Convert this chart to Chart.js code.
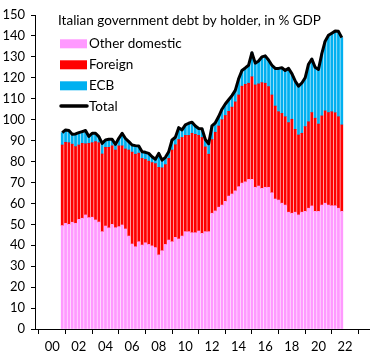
<!DOCTYPE html>
<html><head><meta charset="utf-8">
<script src="https://cdn.jsdelivr.net/npm/chart.js@4.4.1/dist/chart.umd.min.js"></script>
<style>html,body{margin:0;padding:0;background:#fff}#wrap{width:384px;height:359px}</style>
</head><body><div id="wrap"><canvas id="c" width="384" height="359"></canvas></div>
<script>
const chartTitle = 'Italian government debt by holder, in % GDP';
const quarters = ['2000Q4',
 '2001Q1','2001Q2','2001Q3','2001Q4','2002Q1','2002Q2','2002Q3','2002Q4',
 '2003Q1','2003Q2','2003Q3','2003Q4','2004Q1','2004Q2','2004Q3','2004Q4',
 '2005Q1','2005Q2','2005Q3','2005Q4','2006Q1','2006Q2','2006Q3','2006Q4',
 '2007Q1','2007Q2','2007Q3','2007Q4','2008Q1','2008Q2','2008Q3','2008Q4',
 '2009Q1','2009Q2','2009Q3','2009Q4','2010Q1','2010Q2','2010Q3','2010Q4',
 '2011Q1','2011Q2','2011Q3','2011Q4','2012Q1','2012Q2','2012Q3','2012Q4',
 '2013Q1','2013Q2','2013Q3','2013Q4','2014Q1','2014Q2','2014Q3','2014Q4',
 '2015Q1','2015Q2','2015Q3','2015Q4','2016Q1','2016Q2','2016Q3','2016Q4',
 '2017Q1','2017Q2','2017Q3','2017Q4','2018Q1','2018Q2','2018Q3','2018Q4',
 '2019Q1','2019Q2','2019Q3','2019Q4','2020Q1','2020Q2','2020Q3','2020Q4',
 '2021Q1','2021Q2','2021Q3','2021Q4'];
const otherDomestic = [49.4,
 50.5,50.0,51.0,50.5,52.4,52.9,54.5,53.2,53.4,52.1,51.1,46.5,49.2,48.3,50.0,48.4,
 48.9,49.7,47.8,44.4,40.6,39.3,41.7,40.1,41.2,40.4,39.7,38.9,35.4,37.4,40.4,42.5,
 41.7,43.8,43.0,44.4,46.5,46.5,46.0,46.0,46.8,45.7,46.5,46.5,55.3,56.4,58.2,59.2,
 61.0,63.5,64.5,66.0,68.0,69.7,70.3,71.5,71.5,67.7,68.3,67.2,67.7,67.7,65.1,62.1,
 61.6,60.1,59.2,55.8,55.3,55.8,54.5,55.8,56.2,57.7,58.8,56.2,56.2,59.2,60.1,59.2,
 58.9,58.9,57.7,56.2];
const foreign = [38.5,
 38.7,39.0,37.3,36.6,35.5,35.8,34.0,35.5,35.6,37.4,37.9,37.1,37.6,38.5,37.5,37.1,
 38.6,37.8,38.2,41.1,43.9,44.2,42.3,41.4,39.8,39.8,39.8,40.1,41.8,39.6,38.1,39.0,
 43.8,44.2,47.5,47.1,46.0,46.0,47.5,47.0,45.7,45.8,40.5,37.0,35.2,37.6,38.8,40.8,
 41.0,40.5,41.5,42.5,43.8,46.3,46.6,45.9,49.0,48.9,48.8,50.5,49.7,48.1,46.7,44.4,
 42.2,42.9,42.2,42.8,44.9,39.6,38.2,37.7,40.5,41.3,44.6,44.5,41.7,42.6,44.1,44.2,
 44.9,44.4,43.7,41.3];
const ecb = [5.9,
 5.9,5.8,4.7,6.1,5.9,5.6,6.3,3.3,4.5,4.0,2.9,5.1,3.5,3.8,3.1,2.7,
 3.6,6.0,5.0,4.0,3.4,4.1,3.4,3.2,3.4,3.7,2.8,2.1,6.7,3.7,3.5,3.2,
 4.8,3.6,5.7,3.6,5.0,5.8,5.3,4.0,3.3,4.2,3.5,5.0,6.5,4.5,4.5,5.0,
 5.5,5.5,5.5,5.5,7.7,7.5,7.8,8.6,11.5,10.4,10.9,12.3,13.1,12.7,14.2,18.0,
 20.7,21.8,22.1,25.9,21.8,23.1,23.3,24.0,23.3,27.5,25.6,24.3,26.1,29.7,33.3,36.9,
 37.5,39.0,40.8,41.7];
const total = [93.8,
 95.1,94.8,93.0,93.2,93.8,94.3,94.8,92.0,93.5,93.5,91.9,88.7,90.3,90.6,90.6,88.2,
 91.1,93.5,91.0,89.5,87.9,87.6,87.4,84.7,84.4,83.9,82.3,81.1,83.9,80.7,82.0,84.7,
 90.3,91.6,96.2,95.1,97.5,98.3,98.8,97.0,95.8,95.7,90.5,88.5,97.0,98.5,101.5,105.0,
 107.5,109.5,111.5,114.0,119.5,123.5,124.7,126.0,132.0,127.0,128.0,130.0,130.5,128.5,126.0,124.5,
 124.5,124.8,123.5,124.5,122.0,118.5,116.0,117.5,120.0,126.5,129.0,125.0,124.0,131.5,137.5,140.3,
 141.3,142.3,142.2,139.2];
const xTickYears = [2000,2002,2004,2006,2008,2010,2012,2014,2016,2018,2020,2022];
const xTickLabels = ['00','02','04','06','08','10','12','14','16','18','20','22'];

const FONT = 'Lato, "Open Sans", sans-serif';
const xOf = q => { const p = q.split('Q'); return Number(p[0]) + (Number(p[1]) - 1) / 4; };
const pts = arr => arr.map((v, i) => ({ x: xOf(quarters[i]), y: v }));

const inlineLegend = {
  id: 'inlineLegend',
  afterDraw(chart) {
    const ctx = chart.ctx;
    ctx.save();
    ctx.font = '13.5px ' + FONT;
    ctx.fillStyle = '#000';
    ctx.textBaseline = 'alphabetic';
    ctx.textAlign = 'left';
    ctx.fillText(chartTitle, 58, 25);
    const rows = [43.8, 64.8, 85.8, 106];
    chart.data.datasets.forEach((ds, i) => {
      const cy = rows[i];
      if (ds.type === 'line') {
        ctx.strokeStyle = ds.borderColor;
        ctx.lineWidth = 3.5;
        ctx.lineCap = 'round';
        ctx.beginPath(); ctx.moveTo(61, cy); ctx.lineTo(87, cy); ctx.stroke();
      } else {
        ctx.fillStyle = ds.backgroundColor;
        ctx.fillRect(60, cy - 4.5, 27, 9);
      }
      ctx.fillStyle = '#000';
      ctx.fillText(ds.label, 89, cy + 4.5);
    });
    ctx.restore();
  }
};

new Chart(document.getElementById('c'), {
  type: 'bar',
  data: { datasets: [
    { label: 'Other domestic', data: pts(otherDomestic), backgroundColor: '#FF99FF', order: 1 },
    { label: 'Foreign', data: pts(foreign), backgroundColor: '#FF0000', order: 1 },
    { label: 'ECB', data: pts(ecb), backgroundColor: '#00B0F0', order: 1 },
    { type: 'line', label: 'Total', data: pts(total), borderColor: '#000000', borderWidth: 3,
      pointRadius: 0, order: 0, stack: 'total', tension: 0, borderJoinStyle: 'round', fill: false }
  ]},
  options: {
    responsive: false,
    animation: false,
    devicePixelRatio: 1,
    layout: { padding: { top: 15, right: 15, left: 0, bottom: 0 } },
    datasets: { bar: { barThickness: 2.1, borderWidth: 0 } },
    plugins: { legend: { display: false }, tooltip: { enabled: false }, title: { display: false } },
    scales: {
      x: {
        type: 'linear', stacked: true, min: 1999.75, max: 2022.75,
        afterBuildTicks: s => { s.ticks = xTickYears.map(v => ({ value: v })); },
        afterFit: s => { s.height = 30; },
        ticks: {
          autoSkip: false, maxRotation: 0, padding: 5, color: '#000',
          font: { family: FONT, size: 13 },
          callback: v => xTickLabels[xTickYears.indexOf(v)]
        },
        grid: { drawOnChartArea: false, drawTicks: true, tickLength: 5, color: '#000', lineWidth: 1 },
        border: { display: true, color: '#000', width: 1 }
      },
      y: {
        stacked: true, min: 0, max: 150,
        afterFit: s => { s.width = 35; },
        ticks: { stepSize: 10, padding: 6, color: '#000', font: { family: FONT, size: 13 } },
        grid: { drawOnChartArea: false, drawTicks: true, tickLength: 4, color: '#000', lineWidth: 1 },
        border: { display: true, color: '#000', width: 1 }
      }
    }
  },
  plugins: [inlineLegend]
});
</script></body></html>
